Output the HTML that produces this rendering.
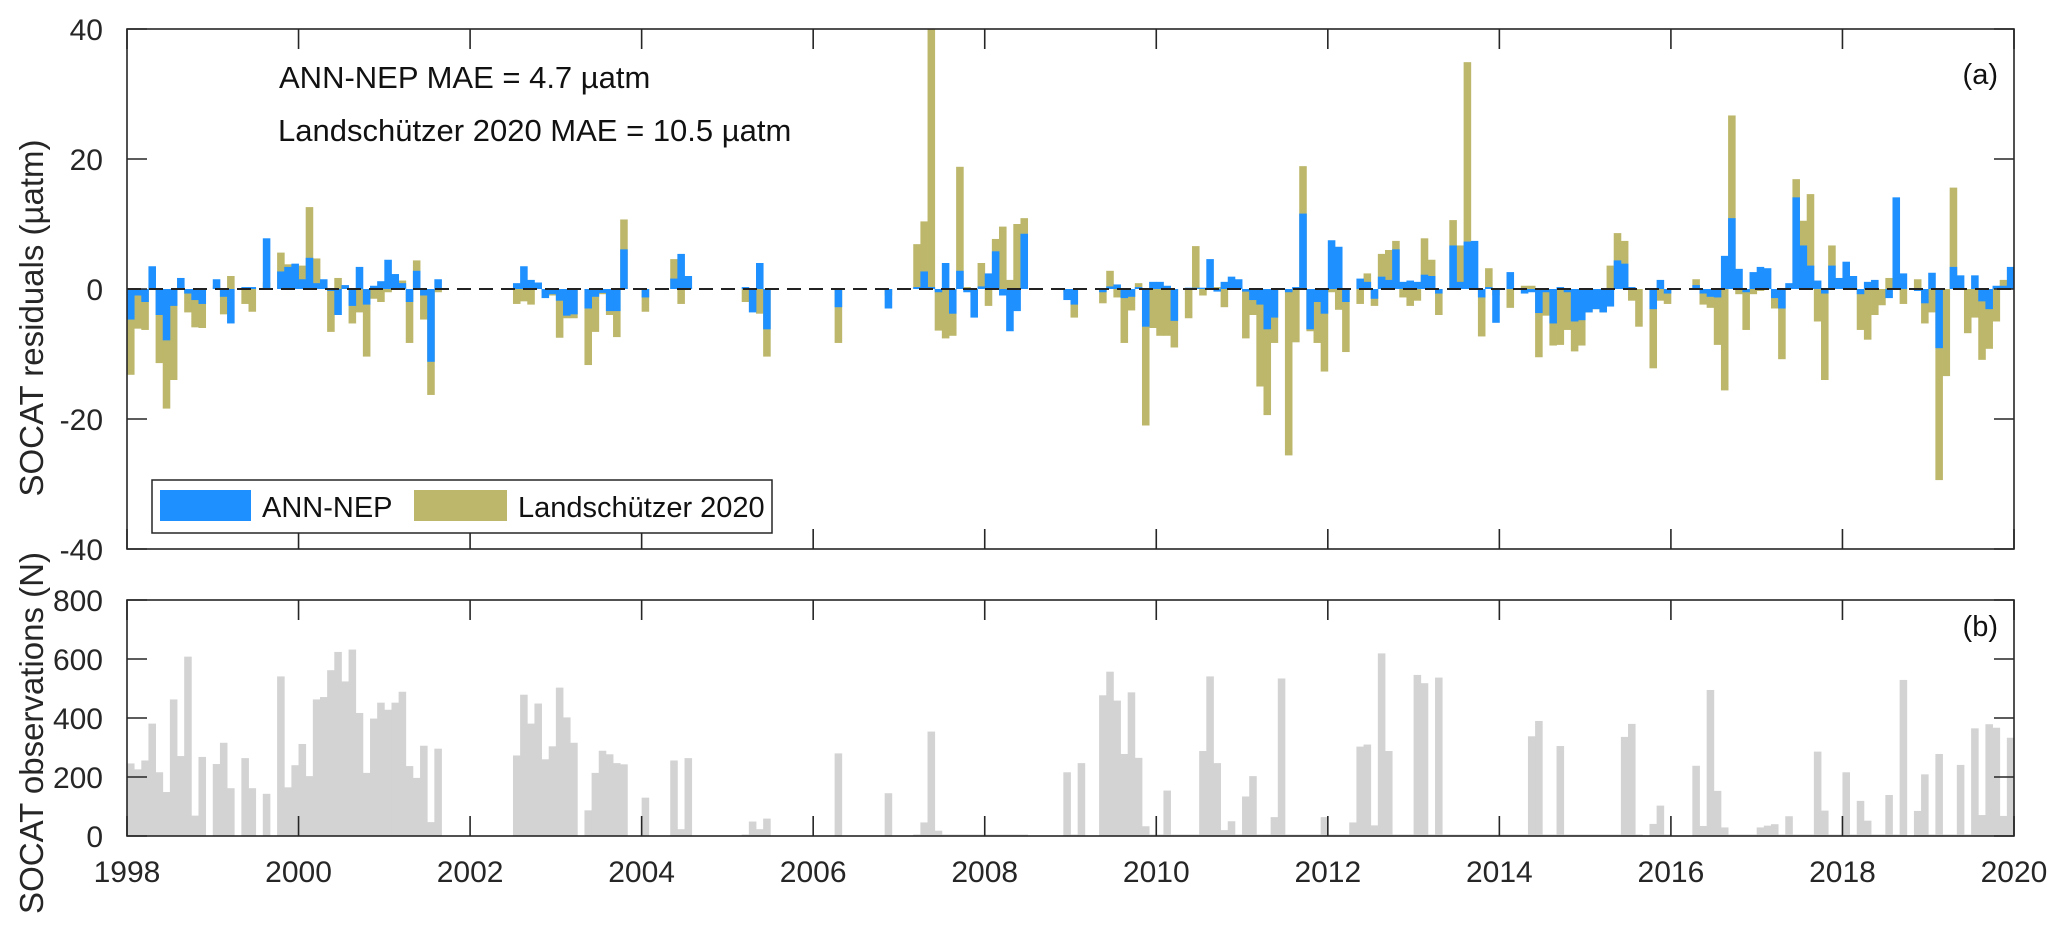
<!DOCTYPE html>
<html><head><meta charset="utf-8"><style>
html,body{margin:0;padding:0;background:#fff;}
svg{display:block;font-family:"Liberation Sans",Arial,sans-serif;}
</style></head><body>
<svg id="chart" width="2067" height="928" viewBox="0 0 2067 928" xmlns="http://www.w3.org/2000/svg">
<rect width="2067" height="928" fill="#fff"/>
<g id="pa"></g>
<g id="pb"></g>
</svg>
<script>
const yearTicks = [1998,2000,2002,2004,2006,2008,2010,2012,2014,2016,2018,2020];
const resTicks = [-40,-20,0,20,40];
const obsTicks = [0,200,400,600,800];
const n = null;
const annNep = [
-4.7,-1,-2,3.5,-4,-7.9,-2.6,1.7,-0.7,-1.7,-2.3,n,
1.5,-1.2,-5.3,n,0.3,0.3,n,7.8,n,2.7,3.4,3.9,
1.5,4.8,0.9,1.5,-0.3,-4,0.6,-2.6,3.4,-2.4,0.5,1.2,
4.5,2.3,0.9,-2,2.8,-1,-11.2,1.5,n,n,n,n,
n,n,n,n,n,n,0.9,3.5,1.4,1,-1.4,-0.8,
-1.8,-4.1,-3.9,n,-3,-1.2,-0.6,-3.4,-3.4,6.1,n,n,
-1.3,n,n,n,1.6,5.4,2,n,n,n,n,n,
n,n,0.3,-3.6,4,-6.2,n,n,n,n,n,n,
n,n,n,-2.8,n,n,n,n,n,n,-3,n,
n,n,0.3,2.7,0.3,-0.5,4,-3.8,2.8,-0.5,-4.4,0.4,
2.4,5.8,-1,-6.5,-3.4,8.5,n,n,n,n,n,-1.7,
-2.4,n,n,n,-0.5,0.4,0.7,-1.4,-1.2,0.3,-5.8,1.1,
1.1,0.5,-4.9,n,0.2,0.2,0.2,4.6,-0.4,1.1,1.9,1.5,
-0.4,-1.7,-2.4,-6.2,-4.4,n,-0.5,0.3,11.6,-6.2,-2,-3.8,
7.5,6.5,-2,n,1.6,1.1,-1.5,1.9,1.4,6.1,1.1,1.3,
1.1,2.2,2,-0.7,n,6.7,1.1,7.3,7.4,-1.3,0.3,-5.2,
n,2.6,n,-0.7,-0.5,-3.7,-0.5,-5.3,0.3,-0.5,-5,-4.8,
-3.6,-3.1,-3.6,-2.7,4.4,3.9,0.3,0,n,-3.1,1.4,-0.7,
n,n,n,0.6,-0.7,-1.2,-1.3,5.1,10.9,3.1,-0.5,2.6,
3.4,3.2,-1.4,-3,0.9,14.1,6.7,3.6,1.3,-0.7,3.6,1.7,
4.2,2,-0.8,1.1,1.4,0,-1.4,14.1,2.4,n,-0.3,-2.2,
2.5,-9.1,0,3.4,2.1,0,2.1,-1.9,-3.1,0.5,0.5,3.4];
const landschutzer = [
-13.2,-6.1,-6.3,0.5,-11.4,-18.4,-14,0.5,-3.6,-5.9,-6,n,
0.5,-3.9,2,n,-2.3,-3.5,n,1,n,5.6,3.8,2,
3.6,12.6,4.7,0.3,-6.6,1.7,0.3,-5.3,-3.6,-10.4,-1.5,-2,
-0.5,1,1.3,-8.3,4.4,-4.7,-16.3,-0.5,n,n,n,n,
n,n,n,n,n,n,-2.3,-1.9,-2.4,0.3,-0.5,-1,
-7.5,-4.5,-4.5,n,-11.7,-6.6,-0.8,-4,-7.4,10.7,n,n,
-3.5,n,n,n,4.6,-2.3,0.3,n,n,n,n,n,
n,n,-2,-1,-3.8,-10.4,n,n,n,n,n,n,
n,n,n,-8.3,n,n,n,n,n,n,-1,n,
n,n,6.9,10.4,40,-6.4,-7.6,-7.2,18.8,0.3,-1,4,
-2.6,7.7,9.6,1.4,10,10.9,n,n,n,n,n,-0.5,
-4.4,n,n,n,-2.2,2.8,-1.3,-8.3,-3.3,0.9,-21,-6,
-7.2,-7.2,-9,n,-4.5,6.6,-1,0.3,0.3,-2.8,0.3,0.3,
-7.6,-4,-15,-19.4,-8.3,n,-25.6,-8.2,18.9,-6.5,-8.3,-12.7,
-0.5,-3.2,-9.7,n,-2.3,2.4,-2.6,5.4,6,7.4,-1.3,-2.6,
-1.8,7.8,4.5,-4,n,10.6,6.7,34.9,0.3,-7.3,3.2,-1,
n,-2.9,n,0.5,0.5,-10.5,-4.1,-8.7,-8.6,-6.3,-9.6,-8.7,
-3.6,-3.1,-3.6,3.6,8.6,7.4,-1.8,-5.8,n,-12.2,-1.8,-2.3,
n,n,n,1.5,-2.4,-2.9,-8.6,-15.6,26.7,-0.8,-6.3,-0.8,
-0.3,0,-3,-10.8,0,16.9,10.5,14.6,-5,-14,6.7,0,
0,0,-6.3,-7.8,-4,-2.5,1.7,0,-2.3,n,1.5,-5.3,
-3.6,-29.4,-13.4,15.6,0,-6.8,-4.4,-10.9,-9.2,-5,1.4,1];
const observations = [
246,226,256,381,216,149,463,271,608,69,268,0,
244,316,162,0,264,162,0,143,0,541,165,240,
312,203,463,471,562,624,524,632,417,214,398,452,
428,452,489,237,197,306,47,296,0,0,0,0,
0,0,0,0,0,0,273,479,381,449,260,304,
503,402,316,0,87,214,289,277,247,243,0,0,
130,0,0,0,256,23,264,0,0,0,0,0,
0,0,5,49,23,59,0,0,0,0,0,0,
0,0,0,280,0,0,0,0,0,0,145,0,
0,0,5,46,354,18,5,5,5,5,5,5,
5,5,5,5,5,5,0,0,0,0,0,216,
5,247,0,0,477,557,459,278,487,265,33,5,
5,154,5,5,5,5,288,541,247,20,50,5,
134,203,5,5,64,534,5,5,5,5,5,64,
5,5,5,46,303,310,36,619,288,5,5,5,
546,518,5,537,5,5,5,5,5,5,5,5,
5,5,5,5,338,390,5,5,305,5,5,5,
5,5,5,5,5,336,380,5,0,41,103,5,
0,0,0,238,34,495,153,29,5,5,5,5,
29,35,40,5,67,5,5,5,286,86,5,5,
216,5,119,52,5,5,139,5,529,0,85,209,
5,278,5,5,241,5,365,71,379,367,68,333];

const NS='http://www.w3.org/2000/svg';
const X0=127, X1=2014, T0=1998, T1=2020;
const ax=t=>X0+(t-T0)/(T1-T0)*(X1-X0);
const mx=i=>ax(T0+i/12);
const A_TOP=29, A_BOT=549;
const ay=v=>A_TOP+(40-v)/80*(A_BOT-A_TOP);
const B_TOP=600, B_BOT=836;
const by=v=>B_BOT-v/800*(B_BOT-B_TOP);
function mk(parent,tag,attrs,text){const e=document.createElementNS(NS,tag);for(const k in attrs)e.setAttribute(k,attrs[k]);if(text!==undefined)e.textContent=text;parent.appendChild(e);return e;}
const pa=document.getElementById('pa'), pb=document.getElementById('pb');
const mw=mx(1)-mx(0);

landschutzer.forEach((v,i)=>{if(v===null)return;const y0=ay(0),y1=ay(v);
 const r=mk(pa,'rect',{x:mx(i),y:Math.min(y0,y1),width:mw+0.4,height:Math.abs(y1-y0),fill:'#BDB76B'});
 
 });
annNep.forEach((v,i)=>{if(v===null)return;const y0=ay(0),y1=ay(v);
 const r=mk(pa,'rect',{x:mx(i),y:Math.min(y0,y1),width:mw+0.4,height:Math.abs(y1-y0),fill:'#1E90FF'});
 
 });
const zl=mk(pa,'line',{x1:X0,x2:X1,y1:ay(0),y2:ay(0),stroke:'#222','stroke-width':2,'stroke-dasharray':'14 8'});



observations.forEach((v,i)=>{if(!v)return;
 const r=mk(pb,'rect',{x:mx(i),y:by(v),width:mw+0.4,height:B_BOT-by(v),fill:'#D3D3D3'});
 
 });

function frame(g,top,bot,ticks,yf,name){
 const b=mk(g,'rect',{x:X0,y:top,width:X1-X0,height:bot-top,fill:'none',stroke:'#262626','stroke-width':1.6});
 
 
 ticks.forEach(v=>{const y=yf(v);
  mk(g,'line',{x1:X0,x2:X0+20,y1:y,y2:y,stroke:'#262626','stroke-width':1.6});
  mk(g,'line',{x1:X1-20,x2:X1,y1:y,y2:y,stroke:'#262626','stroke-width':1.6});
  const t=mk(g,'text',{x:X0-24,y:y+11,'text-anchor':'end','font-size':30,fill:'#262626'},String(v));
  
  });
 yearTicks.forEach(yr=>{const x=ax(yr);
  mk(g,'line',{x1:x,x2:x,y1:top,y2:top+20,stroke:'#262626','stroke-width':1.6});
  mk(g,'line',{x1:x,x2:x,y1:bot-20,y2:bot,stroke:'#262626','stroke-width':1.6});});
}
frame(pa,A_TOP,A_BOT,resTicks,ay,'panel-a');
frame(pb,B_TOP,B_BOT,obsTicks,by,'panel-b');
yearTicks.forEach(yr=>{const t=mk(pb,'text',{x:ax(yr),y:882,'text-anchor':'middle','font-size':30,fill:'#262626'},String(yr));
 
 });
</script>
<script>
(function(){
const svg=document.getElementById('chart');const NS='http://www.w3.org/2000/svg';
function add(html){const g=document.createElementNS(NS,'g');g.innerHTML=html;svg.appendChild(g);}
add(`
<text transform="translate(43,318) rotate(-90)" text-anchor="middle" font-size="33" fill="#262626">SOCAT residuals (µatm)</text>
<text transform="translate(43,733) rotate(-90)" text-anchor="middle" font-size="33" fill="#262626">SOCAT observations (N)</text>
<text x="279" y="88" font-size="31" fill="#111">ANN-NEP MAE = 4.7 µatm</text>
<text x="278" y="141" font-size="31" fill="#111">Landschützer 2020 MAE = 10.5 µatm</text>
<text x="1998" y="84" text-anchor="end" font-size="29" fill="#111">(a)</text>
<text x="1998" y="636" text-anchor="end" font-size="29" fill="#111">(b)</text>
<g>
<rect x="152" y="480" width="620" height="53" fill="#fff" stroke="#262626" stroke-width="1.5"/>
<rect x="160" y="490" width="91" height="31" fill="#1E90FF"/>
<text x="262" y="517" font-size="29" fill="#111">ANN-NEP</text>
<rect x="414" y="490" width="93" height="31" fill="#BDB76B"/>
<text x="518" y="517" font-size="29" fill="#111">Landschützer 2020</text>
</g>`);
})();
</script>
</body></html>
